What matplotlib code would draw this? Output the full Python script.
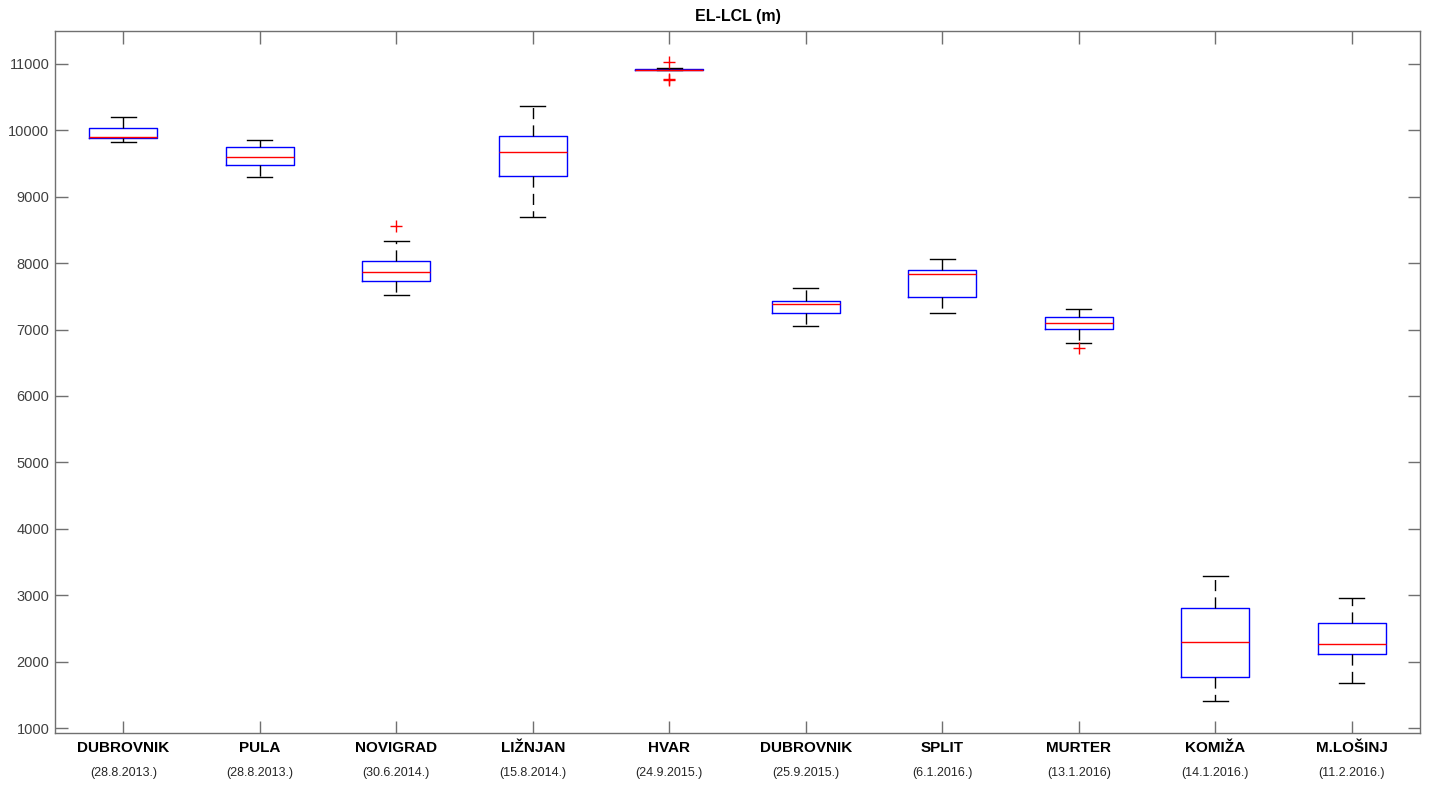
import matplotlib
matplotlib.use('Agg')
import matplotlib.pyplot as plt
from matplotlib import font_manager

# station names and dates of the soundings
stations = ['DUBROVNIK', 'PULA', 'NOVIGRAD', 'LIŽNJAN', 'HVAR',
            'DUBROVNIK', 'SPLIT', 'MURTER', 'KOMIŽA', 'M.LOŠINJ']
dates = ['(28.8.2013.)', '(28.8.2013.)', '(30.6.2014.)', '(15.8.2014.)', '(24.9.2015.)',
         '(25.9.2015.)', '(6.1.2016.)', '(13.1.2016)', '(14.1.2016.)', '(11.2.2016.)']

# box statistics (m)
whislo = [9825, 9294, 7517, 8696, 10903, 7054, 7255, 6803, 1411, 1675]
q1     = [9875, 9479, 7737, 9313, 10905, 7255, 7486, 7004, 1764, 2110]
med    = [9896, 9595, 7867, 9675, 10910, 7390, 7837, 7104, 2295, 2274]
q3     = [10026, 9740, 8029, 9905, 10913, 7431, 7898, 7185, 2803, 2577]
whishi = [10191, 9855, 8330, 10367, 10940, 7631, 8063, 7315, 3289, 2953]
fliers = [[], [], [8565], [], [11020, 10770, 10752], [], [], [6727], [], []]

yticks = list(range(1000, 12000, 1000))

# narrow font if there is one, else plain Arial-like
narrow = 'Liberation Sans Narrow'
names_avail = {f.name for f in font_manager.fontManager.ttflist}
if narrow in names_avail:
    name_size, date_size = 12.5, 10
else:
    narrow = 'Liberation Sans'
    name_size, date_size = 11, 9
plt.rcParams['font.family'] = ['Liberation Sans', 'DejaVu Sans']

stats = []
for i in range(len(stations)):
    stats.append(dict(whislo=whislo[i], q1=q1[i], med=med[i], q3=q3[i],
                      whishi=whishi[i], fliers=fliers[i]))

fig = plt.figure(figsize=(14.29, 7.85), dpi=100)
ax = fig.add_axes([0.0385, 0.0662, 0.9552, 0.8943])

ax.bxp(stats, positions=range(1, len(stations) + 1), widths=0.5,
       showfliers=True, capwidths=0.18,
       boxprops=dict(color='blue', linewidth=1.0),
       medianprops=dict(color='red', linewidth=1.0),
       whiskerprops=dict(color='black', linewidth=1.0, linestyle=(0, (8, 4.5))),
       capprops=dict(color='black', linewidth=1.0),
       flierprops=dict(marker='+', markeredgecolor='red', markersize=8,
                       markeredgewidth=1.0, linestyle='none'))

ax.set_xlim(0.5, len(stations) + 0.5)
ax.set_ylim(928, 11492)
ax.set_yticks(yticks)
ax.set_yticklabels([str(v) for v in yticks], fontsize=10.5, color='#404040')
ax.set_xticks(range(1, len(stations) + 1))
ax.set_xticklabels(stations, fontsize=name_size, fontweight='bold',
                   family=[narrow, 'DejaVu Sans'], color='black')

for i, d in enumerate(dates):
    ax.annotate(d, xy=(i + 1, 0), xycoords=('data', 'axes fraction'),
                xytext=(0, -29), textcoords='offset points',
                ha='center', va='center', fontsize=date_size,
                family=[narrow, 'DejaVu Sans'], color='#262626')

ax.tick_params(axis='both', direction='in', length=9, width=1.0, color='#707070',
               top=True, right=True)
ax.tick_params(axis='x', pad=6)
ax.tick_params(axis='y', pad=4)
for s in ax.spines.values():
    s.set_color('#707070')
    s.set_linewidth(1.0)

ax.set_title('EL-LCL (m)', fontsize=11.5, fontweight='bold', pad=7)

fig.savefig('out.png', dpi=100)
